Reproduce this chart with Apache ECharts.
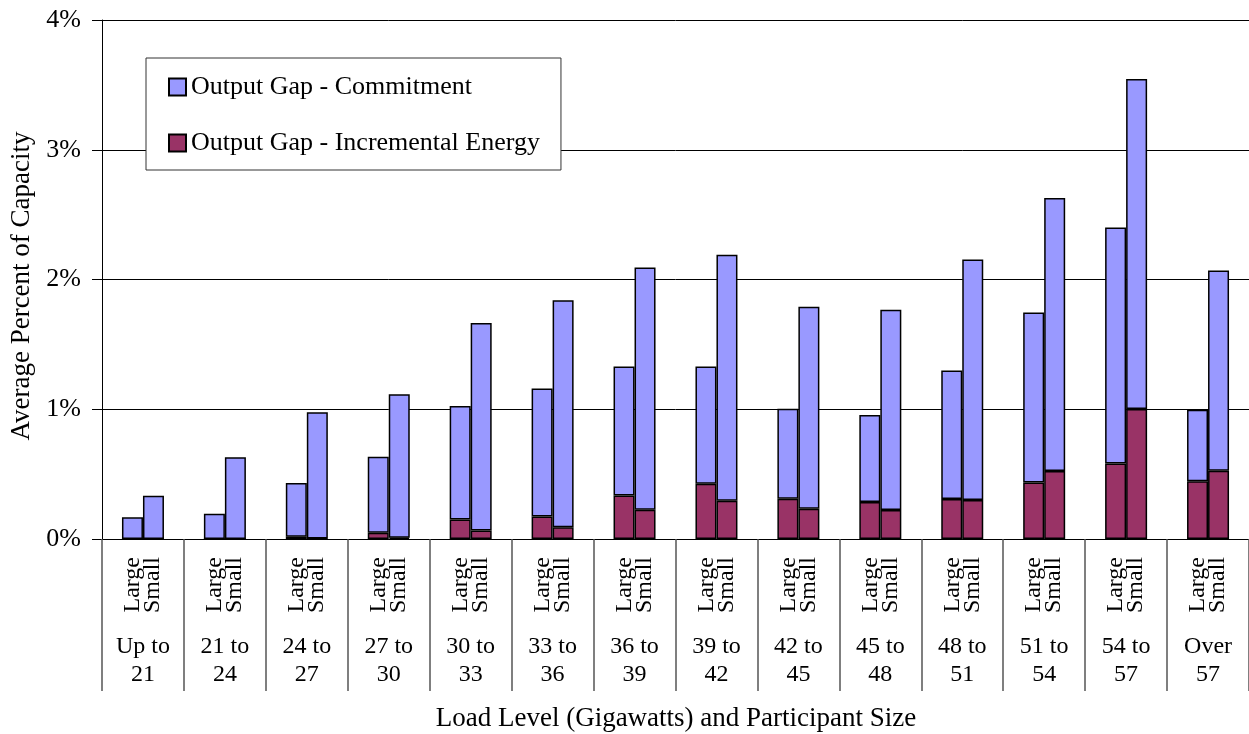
<!DOCTYPE html>
<html>
<head>
<meta charset="utf-8">
<script src="https://cdn.jsdelivr.net/npm/echarts@6/dist/echarts.min.js"></script>
<style>html,body{margin:0;padding:0;background:#fff}#c{width:1249px;height:734px}</style>
</head>
<body>
<div id="c"></div>
<script>
// Load level groups (Gigawatts)
var groupLabels = ['Up to\n21','21 to\n24','24 to\n27','27 to\n30','30 to\n33','33 to\n36','36 to\n39','39 to\n42','42 to\n45','45 to\n48','48 to\n51','51 to\n54','54 to\n57','Over\n57'];
var sizeLabel = 'Large\nSmall';
var yTicks = [0, 1, 2, 3, 4];
// Average percent of capacity (%), segment values
var largeIncremental = [0, 0, 0.018, 0.049, 0.15, 0.174, 0.336, 0.426, 0.31, 0.285, 0.308, 0.435, 0.582, 0.446];
var largeCommitment  = [0.167, 0.195, 0.414, 0.585, 0.875, 0.986, 0.994, 0.904, 0.694, 0.67, 0.991, 1.311, 1.818, 0.55];
var smallIncremental = [0, 0, 0.003, 0.01, 0.066, 0.09, 0.226, 0.295, 0.233, 0.223, 0.3, 0.525, 1.002, 0.526];
var smallCommitment  = [0.334, 0.63, 0.973, 1.105, 1.599, 1.75, 1.867, 1.895, 1.557, 1.544, 1.855, 2.103, 2.543, 1.544];

var NAME_C = 'Output Gap - Commitment';
var NAME_I = 'Output Gap - Incremental Energy';
var FONT = "'Liberation Serif','Times New Roman',serif";
var BLUE = '#9999FF', MAROON = '#993366';

var chart = echarts.init(document.getElementById('c'), null, {renderer: 'canvas'});
function bar(name, stack, data, color) {
  return {
    name: name, type: 'bar', stack: stack, data: data,
    barWidth: 21, barGap: '0%',
    itemStyle: {color: color, borderColor: '#000', borderWidth: 1.5},
    emphasis: {disabled: true}
  };
}
chart.setOption({
  animation: false,
  backgroundColor: '#fff',
  textStyle: {fontFamily: FONT, color: '#000'},
  grid: {left: 102, top: 20, width: 1148, height: 519, containLabel: false},
  legend: {
    data: [NAME_C, NAME_I],
    icon: 'rect',
    orient: 'vertical', left: 146, top: 58,
    backgroundColor: '#fff', borderColor: '#333', borderWidth: 1,
    padding: [16, 21, 14, 22],
    itemWidth: 17, itemHeight: 17, itemGap: 30,
    textStyle: {fontFamily: FONT, fontSize: 26, color: '#000'},
    selectedMode: false
  },
  xAxis: [{
    type: 'category', data: groupLabels.map(function(){return sizeLabel;}),
    boundaryGap: true,
    axisLine: {lineStyle: {color: '#000', width: 1}},
    axisTick: {show: true, length: 152, lineStyle: {color: '#555', width: 1.5}},
    axisLabel: {interval: 0, rotate: 90, margin: 18, fontFamily: FONT, fontSize: 24, lineHeight: 20, color: '#000'}
  }, {
    type: 'category', data: groupLabels, position: 'bottom',
    axisLine: {show: false}, axisTick: {show: false},
    axisLabel: {interval: 0, margin: 94, fontFamily: FONT, fontSize: 24, lineHeight: 28, color: '#000'}
  }],
  yAxis: {
    type: 'value', min: yTicks[0], max: yTicks[yTicks.length - 1], interval: 1,
    axisLine: {show: true, lineStyle: {color: '#000', width: 1}},
    axisTick: {show: true, length: 10, lineStyle: {color: '#000'}},
    axisLabel: {margin: 21, fontFamily: FONT, fontSize: 26, color: '#000', formatter: '{value}%'},
    splitLine: {lineStyle: {color: '#000', width: 1}}
  },
  graphic: [{
    type: 'text',
    x: 22, y: 286, rotation: Math.PI / 2,
    style: {text: 'Average Percent of Capacity', font: "27px 'Liberation Serif','Times New Roman',serif", fill: '#000', textAlign: 'center', textVerticalAlign: 'middle'}
  }, {
    type: 'text',
    x: 676, y: 719,
    style: {text: 'Load Level (Gigawatts) and Participant Size', font: "27px 'Liberation Serif','Times New Roman',serif", fill: '#000', textAlign: 'center', textVerticalAlign: 'middle'}
  }],
  series: [
    bar(NAME_I, 'L', largeIncremental, MAROON),
    bar(NAME_C, 'L', largeCommitment, BLUE),
    bar(NAME_I, 'S', smallIncremental, MAROON),
    bar(NAME_C, 'S', smallCommitment, BLUE)
  ]
});
</script>
</body>
</html>
